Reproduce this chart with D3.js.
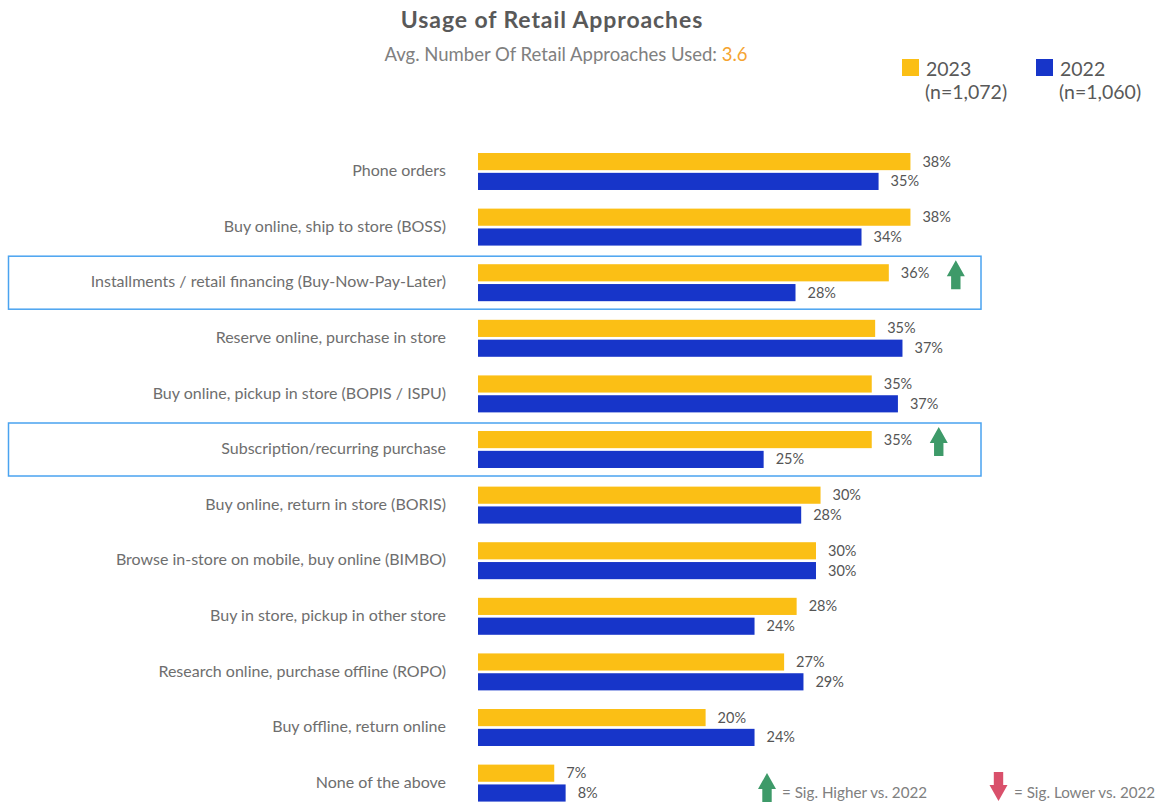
<!doctype html>
<html>
<head>
<meta charset="utf-8">
<style>
  body { margin: 0; background: #fff; }
  text { font-family: Lato, "Open Sans", sans-serif; }
</style>
<script src="https://d3js.org/d3.v7.min.js"></script>
</head>
<body>
<svg width="1164" height="802"></svg>
<script>
// data
var categories = [
  "Phone orders",
  "Buy online, ship to store (BOSS)",
  "Installments / retail financing (Buy-Now-Pay-Later)",
  "Reserve online, purchase in store",
  "Buy online, pickup in store (BOPIS / ISPU)",
  "Subscription/recurring purchase",
  "Buy online, return in store (BORIS)",
  "Browse in-store on mobile, buy online (BIMBO)",
  "Buy in store, pickup in other store",
  "Research online, purchase offline (ROPO)",
  "Buy offline, return online",
  "None of the above"
];
var values2023 = [38.0, 38.0, 36.1, 34.9, 34.6, 34.6, 30.1, 29.7, 28.0, 26.9, 20.0, 6.7];
var values2022 = [35.2, 33.7, 27.9, 37.3, 36.9, 25.1, 28.4, 29.7, 24.3, 28.6, 24.3, 7.7];
var sigHigher = ["Installments / retail financing (Buy-Now-Pay-Later)", "Subscription/recurring purchase"];
var seriesNames = ["2023", "2022"];
var seriesN = ["(n=1,072)", "(n=1,060)"];
var avgApproaches = "3.6";

var colors = { "2023": "#fbbf15", "2022": "#1735c9" };
var textGray = "#595959";

var svg = d3.select("svg");

var data = categories.map(function(c, i) {
  return { cat: c, "2023": values2023[i], "2022": values2022[i] };
});

var x = d3.scaleLinear().domain([0, 40]).range([478, 478 + 455.2]);
var y = d3.scaleBand().domain(categories).range([143.7, 810.9]).paddingInner(0.335).paddingOuter(0.1675);
var ySub = d3.scaleBand().domain(seriesNames).range([0, y.bandwidth()]).paddingInner(0.135);

// title
svg.append("text")
   .attr("x", 552).attr("y", 28)
   .attr("text-anchor", "middle")
   .attr("font-size", "23px")
   .attr("font-weight", "bold")
   .attr("letter-spacing", "0.9px")
   .attr("fill", textGray)
   .text("Usage of Retail Approaches");

var sub = svg.append("text")
   .attr("x", 566).attr("y", 61)
   .attr("text-anchor", "middle")
   .attr("font-size", "18.5px")
   .attr("fill", "#808080");
sub.append("tspan").text("Avg. Number Of Retail Approaches Used: ");
sub.append("tspan").attr("fill", "#f5a431").text(avgApproaches);

// legend top right
var legX = [902, 1036];
seriesNames.forEach(function(s, i) {
  svg.append("rect")
     .attr("x", legX[i]).attr("y", 59)
     .attr("width", 17).attr("height", 17)
     .attr("fill", colors[s]);
  svg.append("text")
     .attr("x", legX[i] + 24).attr("y", 76)
     .attr("font-size", "19.5px").attr("fill", textGray)
     .text(s);
  svg.append("text")
     .attr("x", legX[i] + 23).attr("y", 99)
     .attr("font-size", "19.5px").attr("fill", textGray)
     .text(seriesN[i]);
});

// highlight boxes
svg.selectAll(".hl")
   .data(sigHigher).enter()
   .append("rect")
   .attr("class", "hl")
   .attr("x", 8.5)
   .attr("y", function(d) { return y(d) + y.bandwidth() / 2 - 26.5; })
   .attr("width", 972.5)
   .attr("height", 53)
   .attr("fill", "none")
   .attr("stroke", "#4aa3f0")
   .attr("stroke-width", 1.5);

// category labels
svg.selectAll(".cat")
   .data(categories).enter()
   .append("text")
   .attr("class", "cat")
   .attr("x", 446)
   .attr("y", function(d) { return y(d) + y.bandwidth() / 2 - 1; })
   .attr("dy", "0.35em")
   .attr("text-anchor", "end")
   .attr("font-size", "16px")
   .attr("fill", "#6e6e6e")
   .text(function(d) { return d; });

// bars + value labels
var groups = svg.selectAll(".grp")
   .data(data).enter()
   .append("g")
   .attr("class", "grp")
   .attr("transform", function(d) { return "translate(0," + y(d.cat) + ")"; });

seriesNames.forEach(function(s) {
  groups.append("rect")
     .attr("x", x(0))
     .attr("y", ySub(s))
     .attr("width", function(d) { return x(d[s]) - x(0); })
     .attr("height", ySub.bandwidth())
     .attr("fill", colors[s]);
  groups.append("text")
     .attr("x", function(d) { return x(d[s]) + 12; })
     .attr("y", ySub(s) + ySub.bandwidth() / 2)
     .attr("dy", "0.35em")
     .attr("font-size", "14.5px")
     .attr("fill", "#555")
     .text(function(d) { return Math.round(d[s]) + "%"; });
});

function arrowPath(cx, top, up) {
  var hw = 9, sw = 4.7, hh = 16, len = 29;
  if (up) {
    return "M" + cx + "," + top + " L" + (cx + hw) + "," + (top + hh) + " L" + (cx + sw) + "," + (top + hh) +
      " L" + (cx + sw) + "," + (top + len) + " L" + (cx - sw) + "," + (top + len) + " L" + (cx - sw) + "," + (top + hh) +
      " L" + (cx - hw) + "," + (top + hh) + "Z";
  }
  return "M" + (cx - sw) + "," + top + " L" + (cx + sw) + "," + top + " L" + (cx + sw) + "," + (top + len - hh) +
    " L" + (cx + hw) + "," + (top + len - hh) + " L" + cx + "," + (top + len) + " L" + (cx - hw) + "," + (top + len - hh) +
    " L" + (cx - sw) + "," + (top + len - hh) + "Z";
}

// significance arrows
svg.selectAll(".sig")
   .data(data.filter(function(d) { return sigHigher.indexOf(d.cat) >= 0; })).enter()
   .append("path")
   .attr("class", "sig")
   .attr("d", function(d) {
     var cy = y(d.cat) + ySub("2023") + ySub.bandwidth() / 2 + 2;
     return arrowPath(x(d["2023"]) + 67, cy - 14.5, true);
   })
   .attr("fill", "#3e9a69");

// bottom legend
svg.append("path").attr("d", arrowPath(767, 773, true)).attr("fill", "#3e9a69");
svg.append("text")
   .attr("x", 782).attr("y", 798)
   .attr("font-size", "15.2px").attr("fill", "#808080")
   .text("= Sig. Higher vs. 2022");
svg.append("path").attr("d", arrowPath(998.5, 772, false)).attr("fill", "#d9506b");
svg.append("text")
   .attr("x", 1014).attr("y", 798)
   .attr("font-size", "15.2px").attr("fill", "#808080")
   .text("= Sig. Lower vs. 2022");
</script>
</body>
</html>
